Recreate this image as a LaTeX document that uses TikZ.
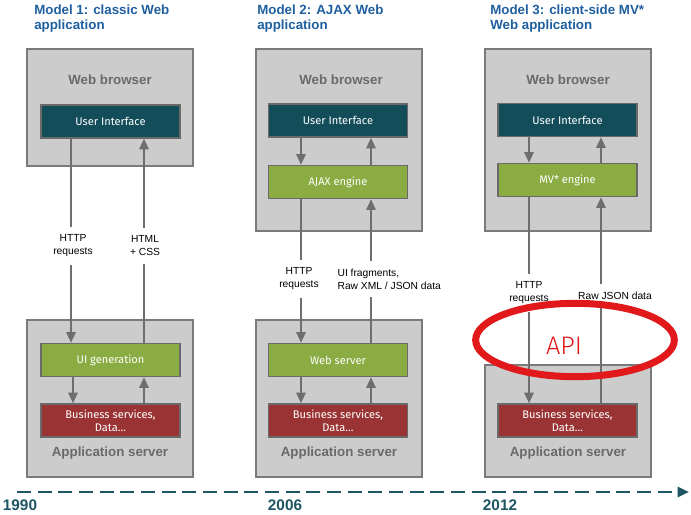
\documentclass[tikz,border=0pt]{standalone}
\usepackage{fontspec}
\setmainfont{Liberation Sans}
\newfontfamily\boxfont{Fira Sans}
\newfontfamily\apifont{Fira Sans}[UprightFont=* Light]
\usetikzlibrary{arrows.meta,positioning,shapes.geometric}

\definecolor{boxgray}{HTML}{CCCCCC}
\definecolor{boxline}{HTML}{7A7A7A}
\definecolor{innerline}{HTML}{6A6A6A}
\definecolor{uiteal}{HTML}{134D5A}
\definecolor{enggreen}{HTML}{8AAC43}
\definecolor{bizred}{HTML}{9A3434}
\definecolor{flowgray}{HTML}{6E6E6E}
\definecolor{tiergray}{HTML}{6A6A6A}
\definecolor{titleblue}{HTML}{1F5F9F}
\definecolor{yearteal}{HTML}{1E5563}
\definecolor{apired}{HTML}{E1191B}

\begin{document}
\begin{tikzpicture}[
    x=0.75pt, y=-0.75pt,
    outer/.style={draw=boxline, fill=boxgray, line width=1.5pt,
                  minimum width=124.5pt, inner sep=0pt},
    inner/.style={draw=innerline, line width=1.1pt, minimum width=104.25pt,
                  minimum height=24.75pt, inner sep=0pt, align=center, text=white,
                  font=\boxfont\fontsize{8.3}{9.75}\selectfont},
    ui/.style={inner, fill=uiteal},
    eng/.style={inner, fill=enggreen},
    biz/.style={inner, fill=bizred},
    tier/.style={font=\bfseries\fontsize{10}{12}\selectfont, text=tiergray},
    title/.style={font=\bfseries\fontsize{10}{11.25}\selectfont, text=titleblue,
                  align=left, anchor=north west, inner sep=0pt},
    flow/.style={draw=flowgray, line width=1.5pt, -{Triangle[length=8pt,width=7pt]}},
    msg/.style={fill=white, font=\fontsize{7.7}{9.75}\selectfont, align=center,
                inner xsep=1pt, inner ysep=6pt},
    year/.style={font=\bfseries\fontsize{11.5}{12}\selectfont, text=yearteal},
    timeline/.style={draw=yearteal, line width=1.9pt, dash pattern=on 10.5pt off 5pt,
                     -{Triangle[length=8.5pt,width=7.5pt]}}
  ]
  \useasboundingbox (0,0) rectangle (691,514);

  % titles
  \node[title] (t1) at (34,5)  {Model 1: classic Web\\application};
  \node[title] (t2) at (257,5) {Model 2: AJAX Web\\application};
  \node[title] (t3) at (490,5) {Model 3: client-side MV*\\Web application};

  % outer tiers
  \node[outer, minimum height=87.75pt]  (wb1) at (110,107.5) {};
  \node[outer, minimum height=117.75pt] (as1) at (110,398.5) {};
  \node[outer, minimum height=136.5pt]  (wb2) at (339,140) {};
  \node[outer, minimum height=117.75pt] (as2) at (339,398.5) {};
  \node[outer, minimum height=136.5pt]  (wb3) at (567.5,140) {};
  \node[outer, minimum height=84pt]     (as3) at (567.5,421) {};

  \node[tier] (wbl1) at (110,80)   {Web browser};
  \node[tier] (wbl2) at (341,80)   {Web browser};
  \node[tier] (wbl3) at (568,80)   {Web browser};
  \node[tier] (asl1) at (110,453)  {Application server};
  \node[tier] (asl2) at (339,453)  {Application server};
  \node[tier] (asl3) at (568,453)  {Application server};

  % components
  \node[ui]  (ui1)   at (110.5,121.5) {User Interface};
  \node[eng] (gen1)  at (110.5,360)   {UI generation};
  \node[biz] (biz1)  at (110.5,420.5) {Business services,\\Data\dots};

  \node[ui]  (ui2)   at (338,120.5) {User Interface};
  \node[eng] (ajax2) at (338,182)   {AJAX engine};
  \node[eng] (web2)  at (338,360)   {Web server};
  \node[biz] (biz2)  at (338,420.5) {Business services,\\Data\dots};

  \node[ui]  (ui3)   at (567.5,120) {User Interface};
  \node[eng] (mv3)   at (567.5,180) {MV* engine};
  \node[biz] (biz3)  at (567.5,420.5) {Business services,\\Data\dots};

  % line positions
  \coordinate (L1) at (71,0);  \coordinate (R1) at (144,0);
  \coordinate (L2) at (301,0); \coordinate (R2) at (371,0);
  \coordinate (L3) at (529,0); \coordinate (R3) at (601,0);

  % model 1
  \draw[flow] (ui1.south -| L1)  -- (gen1.north -| L1);
  \draw[flow] (gen1.north -| R1) -- (ui1.south -| R1);
  \draw[flow] ([xshift=1.5pt]gen1.south -| L1) -- ([xshift=1.5pt]biz1.north -| L1);
  \draw[flow] (biz1.north -| R1) -- (gen1.south -| R1);

  % model 2
  \draw[flow] (ui2.south -| L2)   -- (ajax2.north -| L2);
  \draw[flow] (ajax2.north -| R2) -- (ui2.south -| R2);
  \draw[flow] (ajax2.south -| L2) -- (web2.north -| L2);
  \draw[flow] (web2.north -| R2)  -- (ajax2.south -| R2);
  \draw[flow] (web2.south -| L2)  -- (biz2.north -| L2);
  \draw[flow] (biz2.north -| R2)  -- (web2.south -| R2);

  % model 3
  \draw[flow] (ui3.south -| L3)  -- (mv3.north -| L3);
  \draw[flow] (mv3.north -| R3)  -- (ui3.south -| R3);
  \draw[flow] (mv3.south -| L3)  -- (biz3.north -| L3);
  \draw[flow] (biz3.north -| R3) -- (mv3.south -| R3);

  % messages
  \node[msg] (req1)  at (73,246)  {HTTP\\requests};
  \node[msg] (html1) at (145,246) {HTML\\+ CSS};
  \node[msg] (req2)  at (299,279) {HTTP\\requests};
  \node[msg, align=left, anchor=west] (frag2) at (336,279) {UI fragments,\\Raw XML / JSON data};
  \node[msg] (req3)  at (529,293) {HTTP\\requests};
  \node[msg] (json3) at (615,296) {Raw JSON data};

  % API highlight
  \node[ellipse, draw=apired, line width=5.25pt, minimum width=149pt,
        minimum height=55pt, inner sep=0pt] (api) at (575,340) {};
  \node[font=\apifont\fontsize{19}{19}\selectfont, text=apired] (apil) at (564,346) {API};

  % timeline
  \coordinate (tstart) at (17,492);
  \coordinate (tend)   at (689,492);
  \draw[timeline] (tstart) -- (tend);
  \node[year] (y1) at (20,505)  {1990};
  \node[year] (y2) at (285,505) {2006};
  \node[year] (y3) at (500,505) {2012};
\end{tikzpicture}
\end{document}
